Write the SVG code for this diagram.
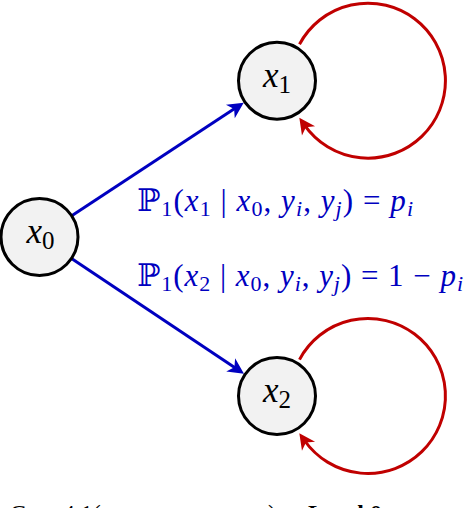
<svg xmlns="http://www.w3.org/2000/svg" width="464" height="508" viewBox="0 0 464 508">
<style>
.node circle { fill: #f2f2f2; stroke: #000; stroke-width: 3; }
.m { font-family: "Liberation Serif", "DejaVu Serif", serif; font-size: 31px; }
.n { font-family: "Liberation Serif", "DejaVu Serif", serif; font-size: 35px; fill: #000; }
.ns { font-size: 25px; font-style: normal; }
.lbl { fill: #0000c0; }
.i { font-style: italic; }
.s { font-size: 22px; font-style: normal; }
.si { font-size: 22px; font-style: italic; }
.bb { font-family: "DejaVu Serif", "DejaVu Sans", serif; font-style: normal; }
.blue { stroke: #0000c0; stroke-width: 3; fill: none; }
.red { stroke: #c00000; stroke-width: 3; fill: none; }
.cap { font-family: "Liberation Serif", serif; font-size: 24px; fill: #000; }
</style>
<defs>
<marker id="ab" markerUnits="userSpaceOnUse" viewBox="-8 -9 18 18" markerWidth="18" markerHeight="18" refX="0" refY="0" orient="auto">
<path d="M9,0 L-7,-8 L-2.5,0 L-7,8 Z" fill="#0000c0"/>
</marker>
<marker id="ar" markerUnits="userSpaceOnUse" viewBox="-8 -9 18 18" markerWidth="18" markerHeight="18" refX="0" refY="0" orient="auto">
<path d="M9,0 L-7,-8 L-2.5,0 L-7,8 Z" fill="#c00000"/>
</marker>
</defs>
<g id="connectors">
<path class="blue" d="M72.1,215.6 L236.2,107.6" marker-end="url(#ab)"/>
<path class="blue" d="M71.9,258.7 L236.5,368.7" marker-end="url(#ab)"/>
<path class="red" d="M299.5,44.3 A77.5,77.5 0 1 1 304.5,125.2" marker-end="url(#ar)"/>
<path class="red" d="M299.5,359.6 A77.5,77.5 0 1 1 304.5,440.5" marker-end="url(#ar)"/>
</g>
<g id="node-x0" class="node">
<circle cx="39.5" cy="237" r="38.5"/>
<text class="n" x="40.5" y="243" text-anchor="middle"><tspan class="i">x</tspan><tspan class="ns" dy="6">0</tspan></text>
</g>
<g id="node-x1" class="node">
<circle cx="277" cy="80.7" r="38.5"/>
<text class="n" x="277" y="86.5" text-anchor="middle"><tspan class="i">x</tspan><tspan class="ns" dy="6">1</tspan></text>
</g>
<g id="node-x2" class="node">
<circle cx="277" cy="396" r="38.5"/>
<text class="n" x="277" y="402" text-anchor="middle"><tspan class="i">x</tspan><tspan class="ns" dy="6">2</tspan></text>
</g>
<g id="labels">
<text class="m lbl" x="137" y="211" textLength="276" lengthAdjust="spacing"><tspan class="bb">ℙ</tspan><tspan class="s" dy="5">1</tspan><tspan dy="-5">(</tspan><tspan class="i">x</tspan><tspan class="s" dy="5">1</tspan><tspan dy="-5"> | </tspan><tspan class="i">x</tspan><tspan class="s" dy="5">0</tspan><tspan dy="-5">, </tspan><tspan class="i">y</tspan><tspan class="si" dy="5">i</tspan><tspan dy="-5">, </tspan><tspan class="i">y</tspan><tspan class="si" dy="5">j</tspan><tspan dy="-5">) = </tspan><tspan class="i">p</tspan><tspan class="si" dy="5">i</tspan></text>
<text class="m lbl" x="137" y="286" textLength="326" lengthAdjust="spacing"><tspan class="bb">ℙ</tspan><tspan class="s" dy="5">1</tspan><tspan dy="-5">(</tspan><tspan class="i">x</tspan><tspan class="s" dy="5">2</tspan><tspan dy="-5"> | </tspan><tspan class="i">x</tspan><tspan class="s" dy="5">0</tspan><tspan dy="-5">, </tspan><tspan class="i">y</tspan><tspan class="si" dy="5">i</tspan><tspan dy="-5">, </tspan><tspan class="i">y</tspan><tspan class="si" dy="5">j</tspan><tspan dy="-5">) = 1 − </tspan><tspan class="i">p</tspan><tspan class="si" dy="5">i</tspan></text>
</g>
<g id="caption">
<text class="cap" x="10" y="521">Case 4.1(<tspan x="150">x₀, x₁</tspan><tspan x="268">).</tspan><tspan x="308" font-weight="bold">Level 0</tspan></text>
</g>
</svg>
